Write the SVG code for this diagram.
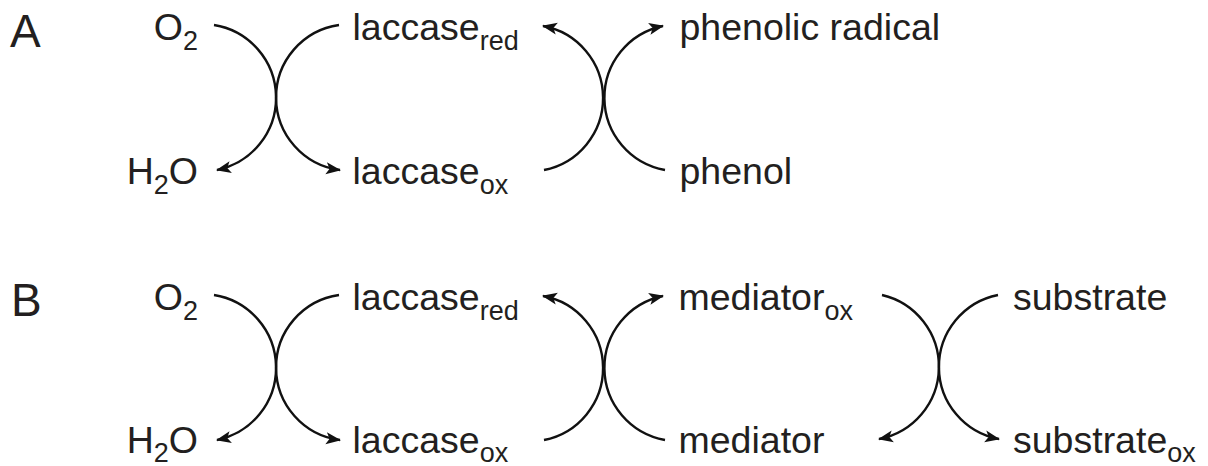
<svg xmlns="http://www.w3.org/2000/svg" width="1208" height="466" viewBox="0 0 1208 466">
<style>
text{font-family:"Liberation Sans",Arial,sans-serif;font-size:37.5px;fill:#231f20}
.lbl{font-size:46px}
.sub{font-size:27px}
.arc{fill:none;stroke:#111;stroke-width:2.4}
.ah{marker-end:url(#ah)}
</style>
<defs>
<marker id="ah" markerUnits="userSpaceOnUse" markerWidth="16" markerHeight="14" refX="14" refY="6.5" orient="auto" viewBox="0 0 16 14">
<path d="M0,0.5 L15,6.5 L0,12.5 L3.5,6.5 z" fill="#111"/>
</marker>
</defs>
<rect width="1208" height="466" fill="#fff"/>
<g id="panel-labels">
<text class="lbl" x="10" y="47">A</text>
<text class="lbl" x="11" y="316">B</text>
</g>
<g id="nodes-A">
<g id="A-O2"><text x="198" y="40" text-anchor="end">O<tspan class="sub" dy="10">2</tspan></text></g>
<g id="A-H2O"><text x="198" y="184" text-anchor="end">H<tspan class="sub" dy="10">2</tspan><tspan dy="-10">O</tspan></text></g>
<g id="A-laccase-red"><text x="352.5" y="40">laccase<tspan class="sub" dy="10">red</tspan></text></g>
<g id="A-laccase-ox"><text x="352.5" y="184">laccase<tspan class="sub" dy="10">ox</tspan></text></g>
<g id="A-phenolic-radical"><text x="679.5" y="40">phenolic radical</text></g>
<g id="A-phenol"><text x="679.5" y="184">phenol</text></g>
</g>
<g id="nodes-B">
<g id="B-O2"><text x="198" y="310" text-anchor="end">O<tspan class="sub" dy="10">2</tspan></text></g>
<g id="B-H2O"><text x="198" y="453" text-anchor="end">H<tspan class="sub" dy="9">2</tspan><tspan dy="-9">O</tspan></text></g>
<g id="B-laccase-red"><text x="352.5" y="310">laccase<tspan class="sub" dy="10">red</tspan></text></g>
<g id="B-laccase-ox"><text x="352.5" y="453">laccase<tspan class="sub" dy="9">ox</tspan></text></g>
<g id="B-mediator-ox"><text x="678.5" y="310">mediator<tspan class="sub" dy="10">ox</tspan></text></g>
<g id="B-mediator"><text x="678.5" y="453">mediator</text></g>
<g id="B-substrate"><text x="1013" y="310">substrate</text></g>
<g id="B-substrate-ox"><text x="1013" y="453">substrate<tspan class="sub" dy="9">ox</tspan></text></g>
</g>
<g id="connectors">
<path class="arc ah" d="M214,25 A73.7,73.7 0 0 1 217,170"/>
<path class="arc ah" d="M339,25 A73.15,73.15 0 0 0 340,170"/>
<path class="arc ah" d="M544,170 A73.3,73.3 0 0 0 543,26"/>
<path class="arc ah" d="M665,170 A73.3,73.3 0 0 1 663,26"/>
<path class="arc ah" d="M214,295 A73.7,73.7 0 0 1 217,440"/>
<path class="arc ah" d="M339,295 A73.15,73.15 0 0 0 340,440"/>
<path class="arc ah" d="M544,440 A73.3,73.3 0 0 0 543,296"/>
<path class="arc ah" d="M665,440 A73.3,73.3 0 0 1 663,296"/>
<path class="arc ah" d="M882,295 A73.6,73.6 0 0 1 879,439"/>
<path class="arc ah" d="M998,295 A73.3,73.3 0 0 0 999,439"/>
</g>
</svg>
